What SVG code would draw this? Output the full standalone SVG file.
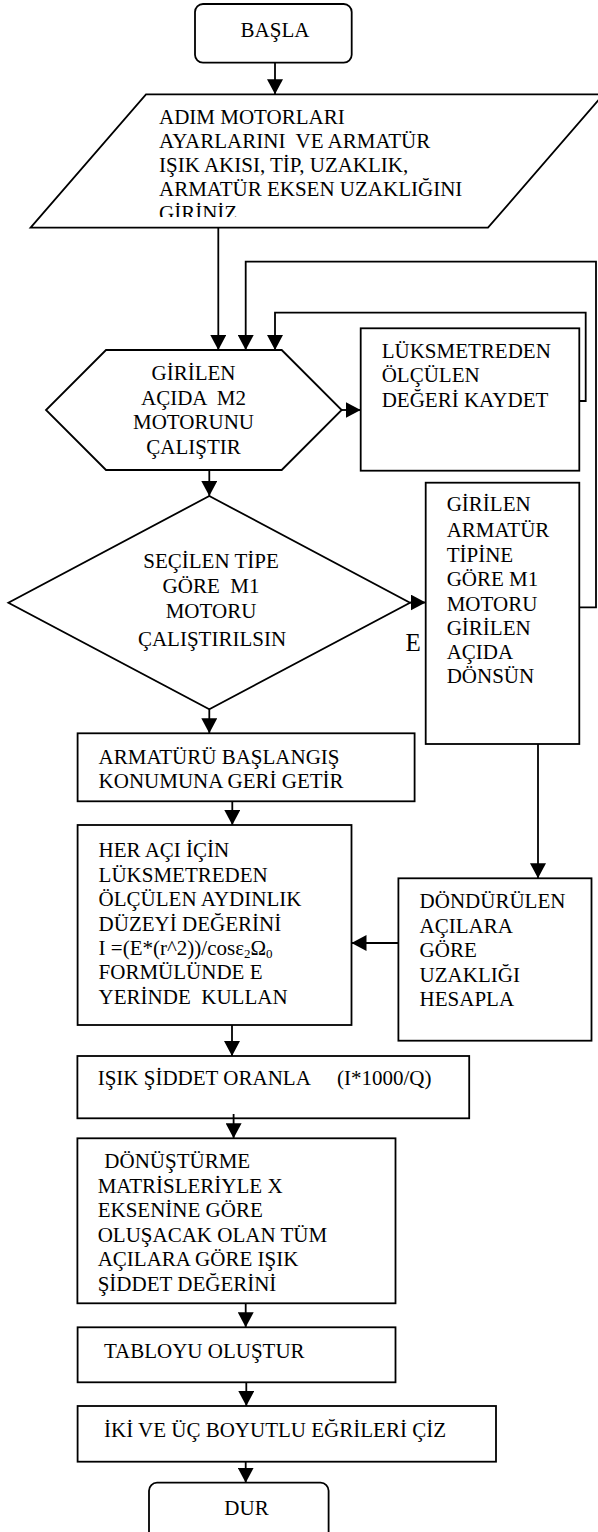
<svg xmlns="http://www.w3.org/2000/svg" width="598" height="1532" viewBox="0 0 598 1532">
<defs>
<style>
.s{fill:#fff;stroke:#000;stroke-width:1.8}
.t{font-family:"Liberation Serif","Times New Roman",serif;font-size:21px;fill:#000}
.m{text-anchor:middle}
.c{fill:none;stroke:#000;stroke-width:1.8}
</style>
<marker id="a" markerUnits="userSpaceOnUse" markerWidth="16" markerHeight="16" refX="15" refY="8" orient="auto">
<path d="M0,0 L15,8 L0,16 z" fill="#000"/>
</marker>
<clipPath id="pc"><rect x="0" y="94" width="598" height="123"/></clipPath>
</defs>
<rect width="598" height="1532" fill="#fff"/>

<g id="basla">
<rect class="s" x="195" y="4" width="156.7" height="58.7" rx="8"/>
<text class="t m" x="275" y="36.7">BAŞLA</text>
</g>

<g id="giris">
<polygon class="s" points="146,94.3 603.4,94.3 488,227.7 30.6,227.7"/>
<g clip-path="url(#pc)">
<text class="t" x="159" y="124" xml:space="preserve">ADIM MOTORLARI</text>
<text class="t" x="159" y="148.3" xml:space="preserve">AYARLARINI  VE ARMATÜR</text>
<text class="t" x="159" y="172.3" xml:space="preserve">IŞIK AKISI, TİP, UZAKLIK,</text>
<text class="t" x="159" y="195.7" xml:space="preserve">ARMATÜR EKSEN UZAKLIĞINI</text>
<text class="t" x="159" y="219.5" xml:space="preserve">GİRİNİZ</text>
</g>
</g>

<g id="m2">
<polygon class="s" points="106,350 281.7,350 341.7,410 281.7,470 106,470 46,410"/>
<text class="t m" x="193.5" y="380">GİRİLEN</text>
<text class="t m" x="193.5" y="404.5" xml:space="preserve">AÇIDA  M2</text>
<text class="t m" x="193.5" y="429">MOTORUNU</text>
<text class="t m" x="193.5" y="453.5">ÇALIŞTIR</text>
</g>

<g id="kaydet">
<rect class="s" x="360.7" y="328.3" width="218.6" height="142.4"/>
<text class="t" x="381.7" y="358.3">LÜKSMETREDEN</text>
<text class="t" x="381.7" y="382.3">ÖLÇÜLEN</text>
<text class="t" x="381.7" y="406.7">DEĞERİ KAYDET</text>
</g>

<g id="m1karar">
<polygon class="s" points="209.3,496 410,602.7 209.3,709.3 8.4,602.7"/>
<text class="t m" x="211" y="568.3">SEÇİLEN TİPE</text>
<text class="t m" x="211" y="593" xml:space="preserve">GÖRE  M1</text>
<text class="t m" x="211" y="618.3">MOTORU</text>
<text class="t m" x="212" y="646">ÇALIŞTIRILSIN</text>
</g>

<g id="m1don">
<rect class="s" x="425.7" y="482.7" width="153.6" height="261.3"/>
<text class="t" x="446.7" y="510.7">GİRİLEN</text>
<text class="t" x="446.7" y="536.7">ARMATÜR</text>
<text class="t" x="446.7" y="561.7">TİPİNE</text>
<text class="t" x="446.7" y="585.7">GÖRE M1</text>
<text class="t" x="446.7" y="610.7">MOTORU</text>
<text class="t" x="446.7" y="635">GİRİLEN</text>
<text class="t" x="446.7" y="659.3">AÇIDA</text>
<text class="t" x="446.7" y="683.3">DÖNSÜN</text>
</g>

<g id="elabel">
<text class="t" x="405.5" y="651" style="font-size:25px">E</text>
</g>

<g id="baslangic">
<rect class="s" x="77.6" y="733.3" width="337" height="68"/>
<text class="t" x="98.6" y="764">ARMATÜRÜ BAŞLANGIŞ</text>
<text class="t" x="98.6" y="788.3">KONUMUNA GERİ GETİR</text>
</g>

<g id="heraci">
<rect class="s" x="77.6" y="825" width="273.9" height="200"/>
<text class="t" x="98.6" y="857.3">HER AÇI İÇİN</text>
<text class="t" x="98.6" y="881.7">LÜKSMETREDEN</text>
<text class="t" x="98.6" y="906">ÖLÇÜLEN AYDINLIK</text>
<text class="t" x="98.6" y="930.7">DÜZEYİ DEĞERİNİ</text>
<text class="t" x="98.6" y="955">I =(E*(r^2))/cosε<tspan dy="3" style="font-size:13px">2</tspan><tspan dy="-3">Ω</tspan><tspan dy="3" style="font-size:13px">0</tspan></text>
<text class="t" x="98.6" y="979.3">FORMÜLÜNDE E</text>
<text class="t" x="98.6" y="1004.3" xml:space="preserve">YERİNDE  KULLAN</text>
</g>

<g id="uzaklik">
<rect class="s" x="398.4" y="878.3" width="193.1" height="162.4"/>
<text class="t" x="419.6" y="908.3">DÖNDÜRÜLEN</text>
<text class="t" x="419.6" y="933.3">AÇILARA</text>
<text class="t" x="419.6" y="957.3">GÖRE</text>
<text class="t" x="419.6" y="981.7">UZAKLIĞI</text>
<text class="t" x="419.6" y="1006">HESAPLA</text>
</g>

<g id="oran">
<rect class="s" x="77.4" y="1056" width="391.8" height="62.3"/>
<text class="t" x="97.7" y="1085">IŞIK ŞİDDET ORANLA</text>
<text class="t" x="337" y="1085">(I*1000/Q)</text>
</g>

<g id="donustur">
<rect class="s" x="77.4" y="1138.3" width="318.1" height="165"/>
<text class="t" x="104.3" y="1168.3">DÖNÜŞTÜRME</text>
<text class="t" x="97.7" y="1193.3">MATRİSLERİYLE X</text>
<text class="t" x="97.7" y="1217.3">EKSENİNE GÖRE</text>
<text class="t" x="97.7" y="1241.7">OLUŞACAK OLAN TÜM</text>
<text class="t" x="97.7" y="1266">AÇILARA GÖRE IŞIK</text>
<text class="t" x="97.7" y="1290.7">ŞİDDET DEĞERİNİ</text>
</g>

<g id="tablo">
<rect class="s" x="77.6" y="1327.3" width="317.9" height="55"/>
<text class="t" x="103.9" y="1358.3">TABLOYU OLUŞTUR</text>
</g>

<g id="egri">
<rect class="s" x="77.6" y="1406" width="418.4" height="55.7"/>
<text class="t" x="104" y="1436.7">İKİ VE ÜÇ BOYUTLU EĞRİLERİ ÇİZ</text>
</g>

<g id="dur">
<rect class="s" x="149" y="1482.7" width="179.6" height="70" rx="8"/>
<text class="t m" x="246.5" y="1515">DUR</text>
</g>

<g id="connectors">
<path class="c" marker-end="url(#a)" d="M275,62.7 V94.3"/>
<path class="c" marker-end="url(#a)" d="M218.3,227.7 V350"/>
<path class="c" marker-end="url(#a)" d="M579.3,607.3 H596 V261.7 H245.7 V350"/>
<path class="c" marker-end="url(#a)" d="M579.3,401 H585.7 V312.7 H275 V350"/>
<path class="c" marker-end="url(#a)" d="M341.7,410 H360.7"/>
<path class="c" marker-end="url(#a)" d="M209.3,470 V496"/>
<path class="c" marker-end="url(#a)" d="M410,602.5 H425.7"/>
<path class="c" marker-end="url(#a)" d="M209.3,709.3 V733.3"/>
<path class="c" marker-end="url(#a)" d="M538,744 V878.3"/>
<path class="c" marker-end="url(#a)" d="M398.4,943 H351.5"/>
<path class="c" marker-end="url(#a)" d="M232.3,801.3 V825"/>
<path class="c" marker-end="url(#a)" d="M232,1025 V1056"/>
<path class="c" marker-end="url(#a)" d="M233.6,1114 V1138.3"/>
<path class="c" marker-end="url(#a)" d="M245.7,1303.3 V1327.3"/>
<path class="c" marker-end="url(#a)" d="M246.3,1382.3 V1406"/>
<path class="c" marker-end="url(#a)" d="M245.7,1461.7 V1482.7"/>
</g>
</svg>
